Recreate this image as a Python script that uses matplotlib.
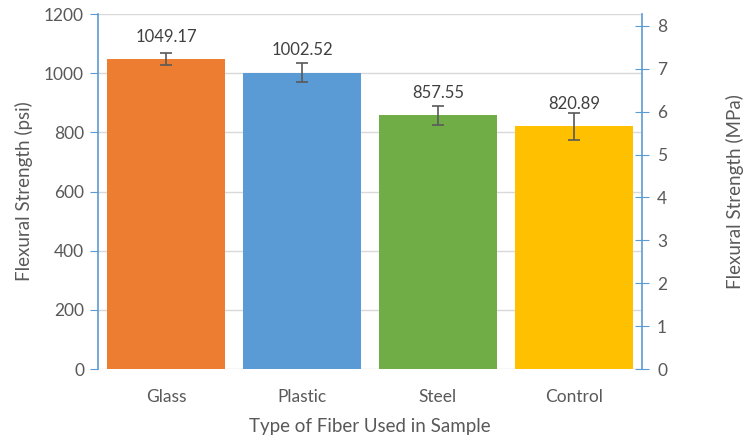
import numpy as np
import matplotlib
matplotlib.use("Agg")
import matplotlib.pyplot as plt

plt.rcParams['font.family'] = ['Lato', 'DejaVu Sans']

fibers = ["Glass", "Plastic", "Steel", "Control"]
strength_psi = [1049.17, 1002.52, 857.55, 820.89]
err_psi = [20, 31, 31, 45]
colors = ["#ED7D31", "#5B9BD5", "#70AD47", "#FFC000"]

PSI_PER_MPA = 145.038
axis_blue = "#5B9BD5"
txt = "#595959"

fig = plt.figure(figsize=(7.48, 4.42), dpi=100)
ax = fig.add_axes([0.131, 0.165, 0.727, 0.803])

x = np.arange(len(fibers))
ax.bar(x, strength_psi, width=0.87, color=colors, zorder=2)
ax.errorbar(x, strength_psi, yerr=err_psi, fmt="none", ecolor="#595959",
            elinewidth=1.2, capsize=4, capthick=1.2, zorder=3)
for xi, v in zip(x, strength_psi):
    ax.annotate(f"{v:.2f}", (xi, v), xytext=(0, 16), textcoords="offset points",
                ha="center", va="center", fontsize=12, color="#404040")

ax.set_xlim(-0.5, 3.5)
ax.set_ylim(0, 1200)
ax.set_yticks(np.arange(0, 1201, 200))
ax.yaxis.grid(True, color="#D9D9D9", linewidth=1, zorder=0)
ax.set_axisbelow(True)
ax.set_xticks(x)
ax.set_xticklabels(fibers)
ax.tick_params(axis="x", length=0, pad=14, labelsize=12.5, labelcolor=txt)
ax.tick_params(axis="y", direction="out", length=6, color=axis_blue,
               labelsize=12.5, labelcolor=txt, pad=4)
for s in ["top", "right", "bottom"]:
    ax.spines[s].set_visible(False)
ax.spines["left"].set_color(axis_blue)
ax.spines["left"].set_linewidth(1.2)
ax.set_ylabel("Flexural Strength (psi)", fontsize=13.5, color=txt, labelpad=8)
ax.set_xlabel("Type of Fiber Used in Sample", fontsize=13.5, color=txt, labelpad=10)

ax2 = ax.twinx()
ax2.set_ylim(0, 1200 / PSI_PER_MPA)
ax2.set_yticks(np.arange(0, 9, 1))
ax2.tick_params(axis="y", direction="inout", length=10, color=axis_blue,
                labelsize=12.5, labelcolor=txt, pad=6)
for s in ["top", "left", "bottom"]:
    ax2.spines[s].set_visible(False)
ax2.spines["right"].set_color(axis_blue)
ax2.spines["right"].set_linewidth(1.2)
ax2.set_ylabel("Flexural Strength (MPa)", fontsize=13.5, color=txt, labelpad=42)

fig.savefig("out.png", dpi=100)
